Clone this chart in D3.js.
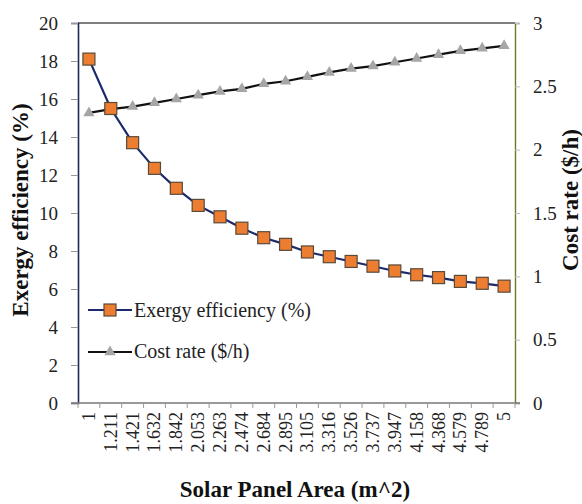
<!DOCTYPE html>
<html><head><meta charset="utf-8">
<script src="https://cdn.jsdelivr.net/npm/d3@7"></script>
<style>body{margin:0;background:#fff}svg{display:block}svg text{font-family:"Liberation Serif",serif}</style>
</head><body>
<script>
const categories = ["1","1.211","1.421","1.632","1.842","2.053","2.263","2.474","2.684","2.895","3.105","3.316","3.526","3.737","3.947","4.158","4.368","4.579","4.789","5"];
const exergy = [18.1,15.5,13.7,12.35,11.3,10.4,9.8,9.2,8.7,8.35,7.95,7.7,7.45,7.2,6.95,6.75,6.6,6.4,6.3,6.15];
const cost = [2.29,2.32,2.34,2.37,2.40,2.43,2.46,2.48,2.52,2.54,2.575,2.61,2.64,2.66,2.69,2.72,2.75,2.78,2.80,2.82];
const leftTicks = [0,2,4,6,8,10,12,14,16,18,20];
const rightTicks = [0,0.5,1,1.5,2,2.5,3];

const W=582,H=504;
const m={l:78,r:515,t:23,b:403};
const font="Liberation Serif";
const svg=d3.select("body").append("svg").attr("width",W).attr("height",H).attr("font-family",font);

const x=d3.scaleBand().domain(categories).range([m.l,m.r]);
const yL=d3.scaleLinear().domain([0,20]).range([m.b,m.t]);
const yR=d3.scaleLinear().domain([0,3]).range([m.b,m.t]);

// top border
svg.append("line").attr("x1",m.l).attr("x2",m.r).attr("y1",m.t).attr("y2",m.t).attr("stroke","#000").attr("stroke-width",1.2);

// left axis
const gL=svg.append("g").attr("transform",`translate(${m.l},0)`).call(d3.axisLeft(yL).tickValues(leftTicks).tickSize(7).tickPadding(13).tickFormat(d3.format("d")));
gL.select(".domain").attr("stroke","#1c2a55").attr("stroke-width",1.6);
gL.selectAll(".tick line").attr("stroke","#999");
gL.selectAll("text").style("font-size","19px").attr("fill","#222");

// right axis
const gR=svg.append("g").attr("transform",`translate(${m.r},0)`).call(d3.axisRight(yR).tickValues(rightTicks).tickSize(5).tickPadding(13).tickFormat(d=>String(d)));
gR.select(".domain").attr("stroke","#6b7a2a").attr("stroke-width",1.4);
gR.selectAll(".tick line").attr("stroke","#bbb");
gR.selectAll("text").style("font-size","19px").attr("fill","#222");

// bottom axis with ticks between categories
const gB=svg.append("g").attr("transform",`translate(0,${m.b})`);
gB.append("line").attr("x1",m.l-7).attr("x2",m.r+5).attr("y1",0).attr("y2",0).attr("stroke","#777").attr("stroke-width",1.4);
const bounds=categories.map(c=>x(c)).concat([m.r]);
gB.selectAll("line.tk").data(bounds).join("line").attr("class","tk")
  .attr("x1",d=>d).attr("x2",d=>d).attr("y1",0).attr("y2",5).attr("stroke","#999");
gB.selectAll("text").data(categories).join("text")
  .attr("transform",d=>`translate(${x(d)+x.bandwidth()/2+6},9) rotate(-90)`)
  .attr("text-anchor","end").style("font-size","18px").attr("fill","#222").text(d=>d);

// lines
const lineE=d3.line().x((d,i)=>x(categories[i])+x.bandwidth()/2).y(d=>yL(d));
const lineC=d3.line().x((d,i)=>x(categories[i])+x.bandwidth()/2).y(d=>yR(d));
svg.append("path").attr("d",lineC(cost)).attr("fill","none").attr("stroke","#111").attr("stroke-width",2.2);
svg.append("path").attr("d",lineE(exergy)).attr("fill","none").attr("stroke","#1c2a6b").attr("stroke-width",2.2);

const tri=d3.symbol().type(d3.symbolTriangle).size(55);
svg.selectAll("path.tri").data(cost).join("path").attr("class","tri")
  .attr("transform",(d,i)=>`translate(${x(categories[i])+x.bandwidth()/2},${yR(d)})`)
  .attr("d",tri).attr("fill","#a6a6a6");
svg.selectAll("rect.sq").data(exergy).join("rect").attr("class","sq")
  .attr("x",(d,i)=>x(categories[i])+x.bandwidth()/2-6).attr("y",d=>yL(d)-6)
  .attr("width",12).attr("height",12).attr("fill","#ed7d31").attr("stroke","#5a4a3a").attr("stroke-width",1.2);

// legend
const lg=svg.append("g");
lg.append("line").attr("x1",88).attr("x2",132).attr("y1",310).attr("y2",310).attr("stroke","#1c2a6b").attr("stroke-width",2.2);
lg.append("rect").attr("x",104).attr("y",304).attr("width",12).attr("height",12).attr("fill","#ed7d31").attr("stroke","#5a4a3a").attr("stroke-width",1.2);
lg.append("text").attr("x",134).attr("y",317).style("font-size","20px").attr("fill","#222").text("Exergy efficiency (%)");
lg.append("line").attr("x1",88).attr("x2",132).attr("y1",352).attr("y2",352).attr("stroke","#111").attr("stroke-width",2.2);
lg.append("path").attr("transform","translate(110,352)").attr("d",tri).attr("fill","#a6a6a6");
lg.append("text").attr("x",134).attr("y",358).style("font-size","20px").attr("fill","#222").text("Cost rate ($/h)");

// titles
svg.append("text").attr("x",295).attr("y",497).attr("text-anchor","middle").style("font-size","23px").attr("font-weight","bold").attr("fill","#111").text("Solar Panel Area (m^2)");
svg.append("text").attr("transform","translate(28,210) rotate(-90)").attr("text-anchor","middle").style("font-size","23px").attr("font-weight","bold").attr("fill","#111").text("Exergy efficiency (%)");
svg.append("text").attr("transform","translate(578,200) rotate(-90)").attr("text-anchor","middle").style("font-size","23px").attr("font-weight","bold").attr("fill","#111").text("Cost rate ($/h)");
</script>
</body></html>
